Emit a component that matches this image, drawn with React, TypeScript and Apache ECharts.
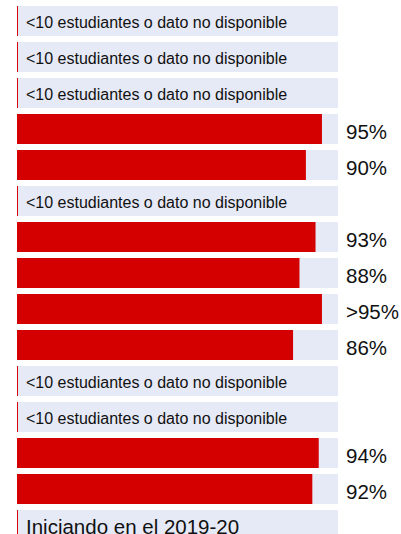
import React, { useEffect, useRef } from "react";
import * as echarts from "echarts";

const categories = [
  "r1", "r2", "r3", "r4", "r5", "r6", "r7", "r8", "r9", "r10", "r11", "r12", "r13", "r14", "r15",
];
// null = <10 students / not available; values in %
const values: (number | null)[] = [null, null, null, 95, 90, null, 93, 88, 95, 86, null, null, 94, 92, null];
const valueLabels = ["", "", "", "95%", "90%", "", "93%", "88%", ">95%", "86%", "", "", "94%", "92%", ""];
const notes = [
  "<10 estudiantes o dato no disponible",
  "<10 estudiantes o dato no disponible",
  "<10 estudiantes o dato no disponible",
  "", "",
  "<10 estudiantes o dato no disponible",
  "", "", "", "",
  "<10 estudiantes o dato no disponible",
  "<10 estudiantes o dato no disponible",
  "", "",
  "Iniciando en el 2019-20",
];
const noteSizes = [16, 16, 16, 0, 0, 16, 0, 0, 0, 0, 16, 16, 0, 0, 20.5];
const fullScale = 100;
const stubValue = 0.3;

export default function App() {
  const ref = useRef<HTMLDivElement>(null);
  useEffect(() => {
    if (!ref.current) return;
    const chart = echarts.init(ref.current, undefined, { renderer: "svg" });
    const font = "'Liberation Sans', Arial, sans-serif";
    const bgData = categories.map((_, i) => {
      const hasVal = values[i] !== null;
      return {
        value: fullScale,
        label: hasVal
          ? {
              show: true,
              position: "right" as const,
              distance: 8,
              offset: [0, 2],
              formatter: valueLabels[i],
              fontSize: 20.5,
              color: "#111",
              fontFamily: font,
            }
          : {
              show: true,
              position: "insideLeft" as const,
              distance: 9,
              offset: [0, 1.5],
              formatter: notes[i],
              fontSize: noteSizes[i],
              color: "#111",
              fontFamily: font,
            },
      };
    });
    const redData = values.map((v) => (v === null ? stubValue : v));
    chart.setOption({
      animation: false,
      grid: { left: 17, top: 3, width: 321, height: 540 },
      xAxis: { type: "value", min: 0, max: fullScale, show: false },
      yAxis: {
        type: "category",
        data: categories,
        inverse: true,
        show: false,
      },
      series: [
        {
          type: "bar",
          data: bgData,
          barWidth: 30,
          itemStyle: { color: "#e6e9f6" },
          silent: true,
        },
        {
          type: "bar",
          data: redData,
          barWidth: 30,
          barGap: "-100%",
          itemStyle: { color: "#d40000" },
        },
      ],
    });
    return () => chart.dispose();
  }, []);
  return (
    <div
      ref={ref}
      style={{ position: "absolute", left: 0, top: 0, width: 401, height: 550 }}
    />
  );
}
